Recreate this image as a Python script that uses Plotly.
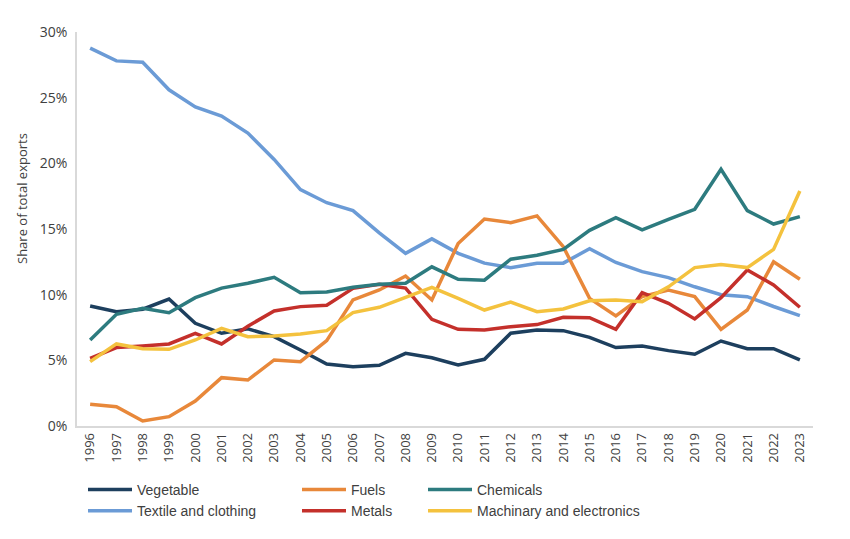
import plotly.graph_objects as go

years = [str(y) for y in range(1996, 2024)]

vegetable = [9.14, 8.7, 8.89, 9.67, 7.82, 7.06, 7.4, 6.8, 5.79, 4.72, 4.52, 4.62, 5.53, 5.2,
             4.65, 5.08, 7.06, 7.31, 7.26, 6.75, 5.97, 6.09, 5.74, 5.46, 6.47, 5.89, 5.89, 5.03]
fuels = [1.65, 1.47, 0.38, 0.71, 1.9, 3.68, 3.5, 5.03, 4.9, 6.5, 9.6, 10.36, 11.42, 9.6,
         13.9, 15.76, 15.48, 16.0, 13.65, 9.72, 8.38, 9.85, 10.36, 9.85, 7.36, 8.83, 12.5, 11.17]
chemicals = [6.55, 8.5, 8.96, 8.63, 9.77, 10.5, 10.87, 11.32, 10.15, 10.2, 10.56, 10.8, 10.87, 12.12,
             11.17, 11.1, 12.7, 13.0, 13.45, 14.9, 15.87, 14.93, 15.74, 16.5, 19.55, 16.4, 15.38, 15.94]
textile = [28.77, 27.8, 27.7, 25.6, 24.3, 23.6, 22.3, 20.3, 18.0, 17.0, 16.4, 14.7, 13.15, 14.25,
           13.15, 12.4, 12.06, 12.4, 12.4, 13.5, 12.45, 11.75, 11.3, 10.6, 10.0, 9.85, 9.1, 8.4]
metals = [5.15, 5.97, 6.09, 6.25, 7.06, 6.25, 7.6, 8.76, 9.09, 9.2, 10.48, 10.8, 10.5, 8.12,
          7.36, 7.31, 7.56, 7.72, 8.28, 8.25, 7.36, 10.15, 9.34, 8.15, 9.77, 11.88, 10.74, 9.04]
machinery = [4.9, 6.25, 5.89, 5.84, 6.55, 7.44, 6.8, 6.85, 7.0, 7.26, 8.63, 9.04, 9.8, 10.56,
             9.72, 8.83, 9.44, 8.7, 8.91, 9.54, 9.6, 9.47, 10.6, 12.06, 12.3, 12.06, 13.45, 17.9]

series = [
    ("Vegetable", vegetable, "#1D3F5E", "legend"),
    ("Textile and clothing", textile, "#6B9BD6", "legend"),
    ("Fuels", fuels, "#E8883A", "legend2"),
    ("Metals", metals, "#C4302B", "legend2"),
    ("Chemicals", chemicals, "#2D7B7F", "legend3"),
    ("Machinary and electronics", machinery, "#F4C23E", "legend3"),
]

# page has an 8px body margin; size the figure to fit the 850x539 window
W, H = 842, 531
ML, MR, MT, MB = 69, 37, 24, 113
PW, PH = W - ML - MR, H - MT - MB

fig = go.Figure()
for name, vals, color, lg in series:
    fig.add_trace(go.Scatter(
        x=years, y=vals, name=name, mode="lines",
        line=dict(color=color, width=3.5),
        legend=lg,
    ))

legend_font = dict(family="Liberation Sans, Arial", size=14, color="#404040")

def leg(xpx):
    return dict(
        xref="container", yref="container",
        x=xpx / W, y=(H - 466) / H,
        xanchor="left", yanchor="top",
        orientation="v", font=legend_font,
        bgcolor="rgba(0,0,0,0)", itemwidth=44,
        tracegroupgap=0, traceorder="normal",
    )

fig.update_layout(
    width=W, height=H,
    margin=dict(l=ML, r=MR, t=MT, b=MB, autoexpand=False),
    plot_bgcolor="white", paper_bgcolor="white",
    font=dict(family="Open Sans, Liberation Sans, Arial", size=13, color="#404040"),
    showlegend=True,
    legend=leg(75),
    legend2=leg(289),
    legend3=leg(415),
    xaxis=dict(
        type="category", tickangle=-90,
        showline=True, linecolor="#D9D9D9", linewidth=1.5,
        showgrid=False, ticks="", tickfont=dict(size=13, color="#404040"),
        range=[-0.5, len(years) - 0.5],
    ),
    yaxis=dict(
        range=[0, 30], dtick=5, ticksuffix="%",
        showline=True, linecolor="#D9D9D9", linewidth=1.5,
        showgrid=False, zeroline=False, ticks="",
        tickfont=dict(size=14, color="#404040"),
        ticklabelstandoff=5,
    ),
    annotations=[dict(
        text="Share of total exports", textangle=-90,
        xref="paper", yref="paper",
        x=(14 - ML) / PW, y=(MT + PH - 191) / PH,
        xanchor="center", yanchor="middle", showarrow=False,
        font=dict(size=13, color="#404040"),
    )],
)

fig.write_html("out.html")
